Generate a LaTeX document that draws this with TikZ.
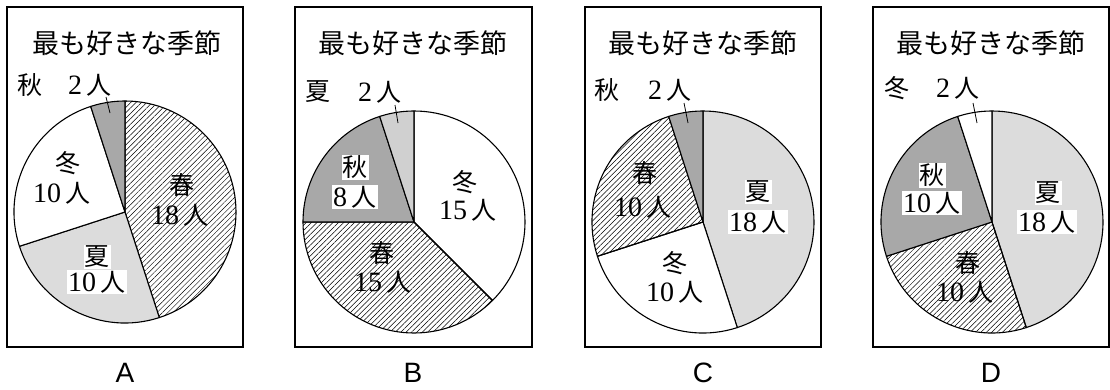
\documentclass[tikz,border=0pt]{standalone}
\usepackage{fontspec}
\newfontfamily\jp{Noto Sans CJK JP}
\newfontfamily\sans{Liberation Sans}
\newfontfamily\num{Liberation Serif}
\usetikzlibrary{patterns.meta}

\definecolor{lgray}{HTML}{DCDCDC}
\definecolor{mgray}{HTML}{D0D0D0}
\definecolor{dgray}{HTML}{A8A8A8}

\newcommand\jpt{\jp\fontsize{25}{25}\selectfont}
\newcommand\pieslice[4]{\filldraw[slice,#4] (#1) -- ++({90-#2}:111) arc[start angle={90-#2}, end angle={90-#3}, radius=111] -- cycle;}

\begin{document}
\begin{tikzpicture}[x=1pt, y=1pt,
        panel/.style = {draw, line width=1.6pt},
        slice/.style = {draw, line width=1.1pt, line join=round},
        hatch/.style = {pattern={Lines[angle=45, distance=3.8pt, line width=0.5pt]}},
        title/.style = {inner sep=1pt, font=\jp\fontsize{27}{27}\selectfont},
        lab/.style = {inner sep=1pt, font=\num\fontsize{28}{28}\selectfont},
        wlab/.style = {lab, fill=white},
        letter/.style = {inner sep=0pt, font=\sans\fontsize{28}{28}\selectfont},
        leader/.style = {line width=0.8pt},
        ]
        \useasboundingbox (0,0) rectangle (1110,389);
        \coordinate (A) at (125,177);
        \coordinate (B) at (414,167);
        \coordinate (C) at (703,167);
        \coordinate (D) at (992,167);

        % A
        \draw[panel] (7,42) rectangle (243,382);
        \pieslice{A}{0}{162}{hatch}
        \pieslice{A}{162}{252}{fill=lgray}
        \pieslice{A}{252}{342}{fill=white}
        \pieslice{A}{342}{360}{fill=dgray}
        \node[title] (a-title) at (127,346) {最も好きな季節};
        \node[lab] (a-aut) at (30,304) {\jpt 秋};
        \node[lab] (a-aut-n) at (90,304) {2\,{\jpt 人}};
        \coordinate (a-l1) at (106,292);
        \coordinate (a-l2) at (110,276);
        \draw[leader] (a-l1) -- (a-l2);
        \node[lab] (a-win) at (68,226) {\jpt 冬};
        \node[lab] (a-win-n) at (62,196) {10\,{\jpt 人}};
        \node[lab] (a-spr) at (182,204) {\jpt 春};
        \node[lab] (a-spr-n) at (180,174) {18\,{\jpt 人}};
        \node[wlab] (a-sum) at (97,132) {\jpt 夏};
        \node[wlab] (a-sum-n) at (97,107) {10\,{\jpt 人}};
        \node[letter] (a-name) at (125,16) {A};

        % B
        \draw[panel] (295,42) rectangle (532,382);
        \pieslice{B}{0}{135}{fill=white}
        \pieslice{B}{135}{270}{hatch}
        \pieslice{B}{270}{342}{fill=dgray}
        \pieslice{B}{342}{360}{fill=mgray}
        \node[title] (b-title) at (413,346) {最も好きな季節};
        \node[lab] (b-sum) at (318,297) {\jpt 夏};
        \node[lab] (b-sum-n) at (380,297) {2\,{\jpt 人}};
        \coordinate (b-l1) at (395,284);
        \coordinate (b-l2) at (398,266);
        \draw[leader] (b-l1) -- (b-l2);
        \node[wlab] (b-aut) at (355,222) {\jpt 秋};
        \node[wlab] (b-aut-n) at (355,192) {8\,{\jpt 人}};
        \node[lab] (b-win) at (465,207) {\jpt 冬};
        \node[lab] (b-win-n) at (468,179) {15\,{\jpt 人}};
        \node[lab] (b-spr) at (382,136) {\jpt 春};
        \node[lab] (b-spr-n) at (383,107) {15\,{\jpt 人}};
        \node[letter] (b-name) at (413,16) {B};

        % C
        \draw[panel] (585,42) rectangle (821,382);
        \pieslice{C}{0}{162}{fill=lgray}
        \pieslice{C}{162}{252}{fill=white}
        \pieslice{C}{252}{342}{hatch}
        \pieslice{C}{342}{360}{fill=dgray}
        \node[title] (c-title) at (703,346) {最も好きな季節};
        \node[lab] (c-aut) at (607,299) {\jpt 秋};
        \node[lab] (c-aut-n) at (670,299) {2\,{\jpt 人}};
        \coordinate (c-l1) at (684,286);
        \coordinate (c-l2) at (688,266);
        \draw[leader] (c-l1) -- (c-l2);
        \node[lab] (c-spr) at (645,216) {\jpt 春};
        \node[lab] (c-spr-n) at (643,182) {10\,{\jpt 人}};
        \node[wlab] (c-sum) at (758,197) {\jpt 夏};
        \node[wlab] (c-sum-n) at (758,167) {18\,{\jpt 人}};
        \node[lab] (c-win) at (675,126) {\jpt 冬};
        \node[lab] (c-win-n) at (675,97) {10\,{\jpt 人}};
        \node[letter] (c-name) at (703,16) {C};

        % D
        \draw[panel] (873,42) rectangle (1109,382);
        \pieslice{D}{0}{162}{fill=lgray}
        \pieslice{D}{162}{252}{hatch}
        \pieslice{D}{252}{342}{fill=dgray}
        \pieslice{D}{342}{360}{fill=white}
        \node[title] (d-title) at (991,346) {最も好きな季節};
        \node[lab] (d-win) at (897,301) {\jpt 冬};
        \node[lab] (d-win-n) at (958,301) {2\,{\jpt 人}};
        \coordinate (d-l1) at (973,286);
        \coordinate (d-l2) at (977,266);
        \draw[leader] (d-l1) -- (d-l2);
        \node[wlab] (d-aut) at (932,214) {\jpt 秋};
        \node[wlab] (d-aut-n) at (932,186) {10\,{\jpt 人}};
        \node[wlab] (d-sum) at (1048,196) {\jpt 夏};
        \node[wlab] (d-sum-n) at (1047,167) {18\,{\jpt 人}};
        \node[lab] (d-spr) at (968,126) {\jpt 春};
        \node[lab] (d-spr-n) at (965,97) {10\,{\jpt 人}};
        \node[letter] (d-name) at (991,16) {D};
    \end{tikzpicture}
\end{document}
